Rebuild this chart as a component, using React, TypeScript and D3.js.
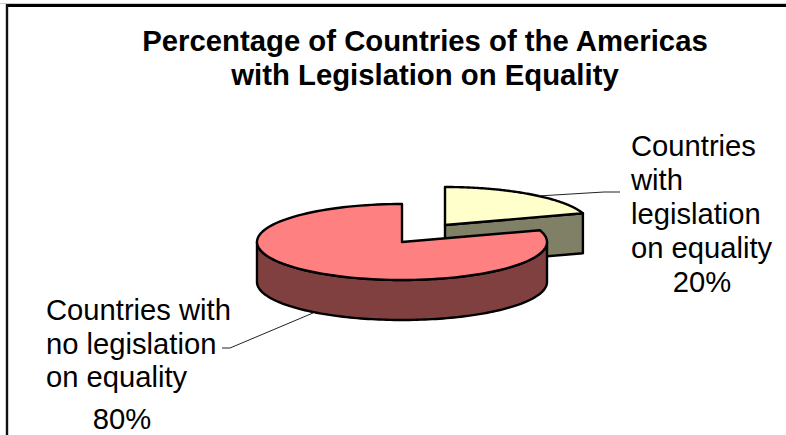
import * as d3 from "d3";

const titleLines = ["Percentage of Countries of the Americas", "with Legislation on Equality"];
const categories = ["Countries with legislation on equality", "Countries with no legislation on equality"];
const percents = [20, 80];
const topColors = ["#FFFFCC", "#FF8080"];
const sideColors = ["#808066", "#804040"];
const labelLines = [
  ["Countries", "with", "legislation", "on equality"],
  ["Countries with", "no legislation", "on equality"],
];

const width = 786;
const height = 435;
const rx = 145;
const ry = 38;
const depth = 40;
const font = "Liberation Sans, Arial, sans-serif";

// exploded slice is offset from the main pie
const centers = [
  { x: 445, y: 225 },
  { x: 402, y: 242 },
];

const pie = d3.pie<number>().value((d) => d).sort(null);
const arcs = pie(percents);

// rim point on the squashed ellipse, angle 0 at 12 o'clock
function rim(a: number, c: { x: number; y: number }, dy = 0): [number, number] {
  return [c.x + rx * Math.sin(a), c.y - ry * Math.cos(a) + dy];
}

function sampleAngles(a0: number, a1: number) {
  return d3.range(0, 121).map((i) => a0 + ((a1 - a0) * i) / 120);
}

const line = d3.line();

function topPath(i: number) {
  const c = centers[i];
  const pts = sampleAngles(arcs[i].startAngle, arcs[i].endAngle).map((a) => rim(a, c));
  return line([[c.x, c.y], ...pts]) + "Z";
}

// outer wall, only the part facing the viewer (PI/2 .. 3PI/2)
function wallPath(i: number) {
  const c = centers[i];
  const a0 = Math.max(arcs[i].startAngle, Math.PI / 2);
  const a1 = Math.min(arcs[i].endAngle, (3 * Math.PI) / 2);
  if (a1 <= a0) return null;
  const angles = sampleAngles(a0, a1);
  const upper = angles.map((a) => rim(a, c));
  const lower = angles.map((a) => rim(a, c, depth)).reverse();
  return line([...upper, ...lower]) + "Z";
}

// flat cut face going from the centre to the rim
function cutPath(i: number, a: number) {
  const c = centers[i];
  const p = rim(a, c);
  return line([
    [c.x, c.y],
    p,
    [p[0], p[1] + depth],
    [c.x, c.y + depth],
  ]) + "Z";
}

export default function App() {
  return (
    <svg
      width={width}
      height={height}
      style={{ position: "absolute", left: 0, top: 0, background: "#fff" }}
      fontFamily={font}
      fill="#000"
    >
      <path d="M0,3.5H786" fill="none" stroke="#ccc" strokeWidth={1} />
      <path d="M6,5.5H786" fill="none" stroke="#000" strokeWidth={3} />
      <path d="M7,4V435" fill="none" stroke="#111" strokeWidth={2.4} />

      {titleLines.map((t, i) => (
        <text key={t} x={425} y={51 + i * 34} textAnchor="middle" fontSize={29.3} fontWeight="bold">
          {t}
        </text>
      ))}

      {/* small slice first, the big one overlaps it */}
      <path d={cutPath(0, arcs[0].endAngle)} fill={sideColors[0]} stroke="#000" strokeWidth={2.4} strokeLinejoin="round" />
      <path d={topPath(0)} fill={topColors[0]} stroke="#000" strokeWidth={2.4} strokeLinejoin="round" />

      <path d={wallPath(1) ?? ""} fill={sideColors[1]} stroke="#000" strokeWidth={2.4} strokeLinejoin="round" />
      <path d={topPath(1)} fill={topColors[1]} stroke="#000" strokeWidth={2.4} strokeLinejoin="round" />

      <path d="M538,196L604,192H620" fill="none" stroke="#222" strokeWidth={1} />
      <path d="M222,348H230L313,313" fill="none" stroke="#222" strokeWidth={1} />

      <g fontSize={29.2}>
        {labelLines[0].map((t, i) => (
          <text key={t} x={631} y={156 + i * 34}>
            {t}
          </text>
        ))}
        <text x={702} y={292} textAnchor="middle">
          {percents[0]}%
        </text>
        {labelLines[1].map((t, i) => (
          <text key={t} x={46} y={320 + i * 33.5}>
            {t}
          </text>
        ))}
        <text x={122} y={429} textAnchor="middle">
          {percents[1]}%
        </text>
      </g>
      <title>{categories.join(" / ")}</title>
    </svg>
  );
}
